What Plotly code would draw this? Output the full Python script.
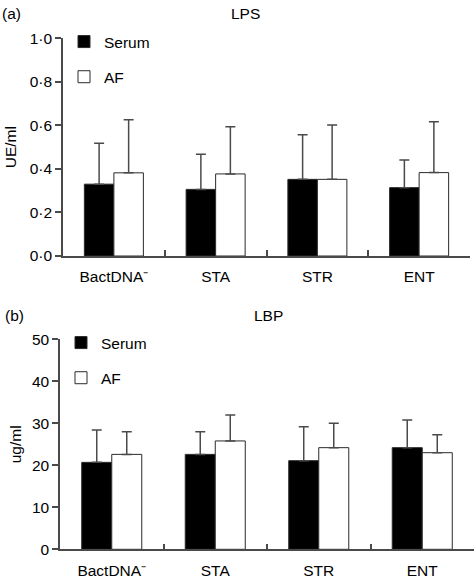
import plotly.graph_objects as go

categories = ["BactDNA⁻", "STA", "STR", "ENT"]

lps_serum = [0.33, 0.306, 0.352, 0.314]
lps_serum_err_top = [0.518, 0.467, 0.557, 0.441]
lps_af = [0.382, 0.377, 0.352, 0.383]
lps_af_err_top = [0.626, 0.594, 0.602, 0.617]

lbp_serum = [20.7, 22.6, 21.1, 24.2]
lbp_serum_err_top = [28.4, 28.0, 29.2, 30.8]
lbp_af = [22.6, 25.8, 24.2, 23.0]
lbp_af_err_top = [28.0, 32.0, 30.0, 27.3]

lps_ticks = [0, 0.2, 0.4, 0.6, 0.8, 1.0]
lps_ticktext = ["0·0", "0·2", "0·4", "0·6", "0·8", "1·0"]
lbp_ticks = [0, 10, 20, 30, 40, 50]

W, H = 475, 579
FONT = "Liberation Sans, Arial, sans-serif"
FS = 15.5
AX = "#4a4a4a"
OUTLINE = "#2a2a2a"


def px_x(p):
    return p / W


def px_y(p):
    return 1 - p / H


fig = go.Figure()


def add_pair(serum, serum_top, af, af_top, xa, ya, legend):
    fig.add_trace(go.Bar(
        x=categories, y=serum, name="Serum", xaxis=xa, yaxis=ya,
        legend=legend, legendgroup=legend + "s",
        marker=dict(color="black", line=dict(color=OUTLINE, width=1)),
        error_y=dict(type="data", symmetric=False,
                     array=[t - v for t, v in zip(serum_top, serum)],
                     arrayminus=[0] * len(serum),
                     color=AX, thickness=1.5, width=5),
    ))
    fig.add_trace(go.Bar(
        x=categories, y=af, name="AF", xaxis=xa, yaxis=ya,
        legend=legend, legendgroup=legend + "a",
        marker=dict(color="white", line=dict(color=OUTLINE, width=1)),
        error_y=dict(type="data", symmetric=False,
                     array=[t - v for t, v in zip(af_top, af)],
                     arrayminus=[0] * len(af),
                     color=AX, thickness=1.5, width=5),
    ))


add_pair(lps_serum, lps_serum_err_top, lps_af, lps_af_err_top, "x", "y", "legend")
add_pair(lbp_serum, lbp_serum_err_top, lbp_af, lbp_af_err_top, "x2", "y2", "legend2")

xcommon = dict(
    type="category", tickson="boundaries", ticks="inside", ticklen=6,
    tickcolor=AX, tickwidth=1.5, showline=True, linecolor=AX, linewidth=1.5,
    showgrid=False, zeroline=False, range=[-0.5, 3.5], automargin=False,
    ticklabelstandoff=6,
    tickfont=dict(family=FONT, size=FS, color="black"),
)
ycommon = dict(
    ticks="outside", ticklen=6, tickcolor=AX, tickwidth=1.5,
    showline=True, linecolor=AX, linewidth=1.5, showgrid=False,
    zeroline=False, automargin=False,
    tickfont=dict(family=FONT, size=FS, color="black"),
    title_font=dict(family=FONT, size=FS, color="black"),
)

legend_common = dict(
    font=dict(family=FONT, size=FS, color="black"), bgcolor="rgba(0,0,0,0)",
    xanchor="left", yanchor="top", tracegroupgap=12, traceorder="grouped",
)

fig.update_layout(
    width=W, height=H, margin=dict(l=0, r=0, t=0, b=0, autoexpand=False),
    paper_bgcolor="white", plot_bgcolor="white",
    barmode="group", bargap=0.42, bargroupgap=0,
    font=dict(family=FONT, size=FS, color="black"),
    xaxis=dict(xcommon, domain=[px_x(63), px_x(470)], anchor="y"),
    yaxis=dict(ycommon, domain=[px_y(256), px_y(38.3)], anchor="x",
               range=[0, 1.0], tickvals=lps_ticks, ticktext=lps_ticktext,
               title_text="UE/ml", title_standoff=9),
    xaxis2=dict(xcommon, domain=[px_x(60), px_x(474)], anchor="y2"),
    yaxis2=dict(ycommon, domain=[px_y(549.3), px_y(339.3)], anchor="x2",
                range=[0, 50], tickvals=lbp_ticks, title_text="ug/ml",
                title_standoff=6),
    legend=dict(legend_common, x=px_x(64), y=px_y(25)),
    legend2=dict(legend_common, x=px_x(61), y=px_y(326)),
    annotations=[
        dict(text="(a)", x=0, y=px_y(3), xref="paper", yref="paper",
             xanchor="left", yanchor="top", showarrow=False,
             font=dict(family=FONT, size=FS)),
        dict(text="LPS", x=px_x(245), y=px_y(3), xref="paper", yref="paper",
             xanchor="center", yanchor="top", showarrow=False,
             font=dict(family=FONT, size=FS)),
        dict(text="(b)", x=px_x(3), y=px_y(305), xref="paper", yref="paper",
             xanchor="left", yanchor="top", showarrow=False,
             font=dict(family=FONT, size=FS)),
        dict(text="LBP", x=px_x(268), y=px_y(305), xref="paper", yref="paper",
             xanchor="center", yanchor="top", showarrow=False,
             font=dict(family=FONT, size=FS)),
    ],
)

fig.write_html("out.html", config={"displayModeBar": False},
               post_script="document.body.style.margin='0';")
